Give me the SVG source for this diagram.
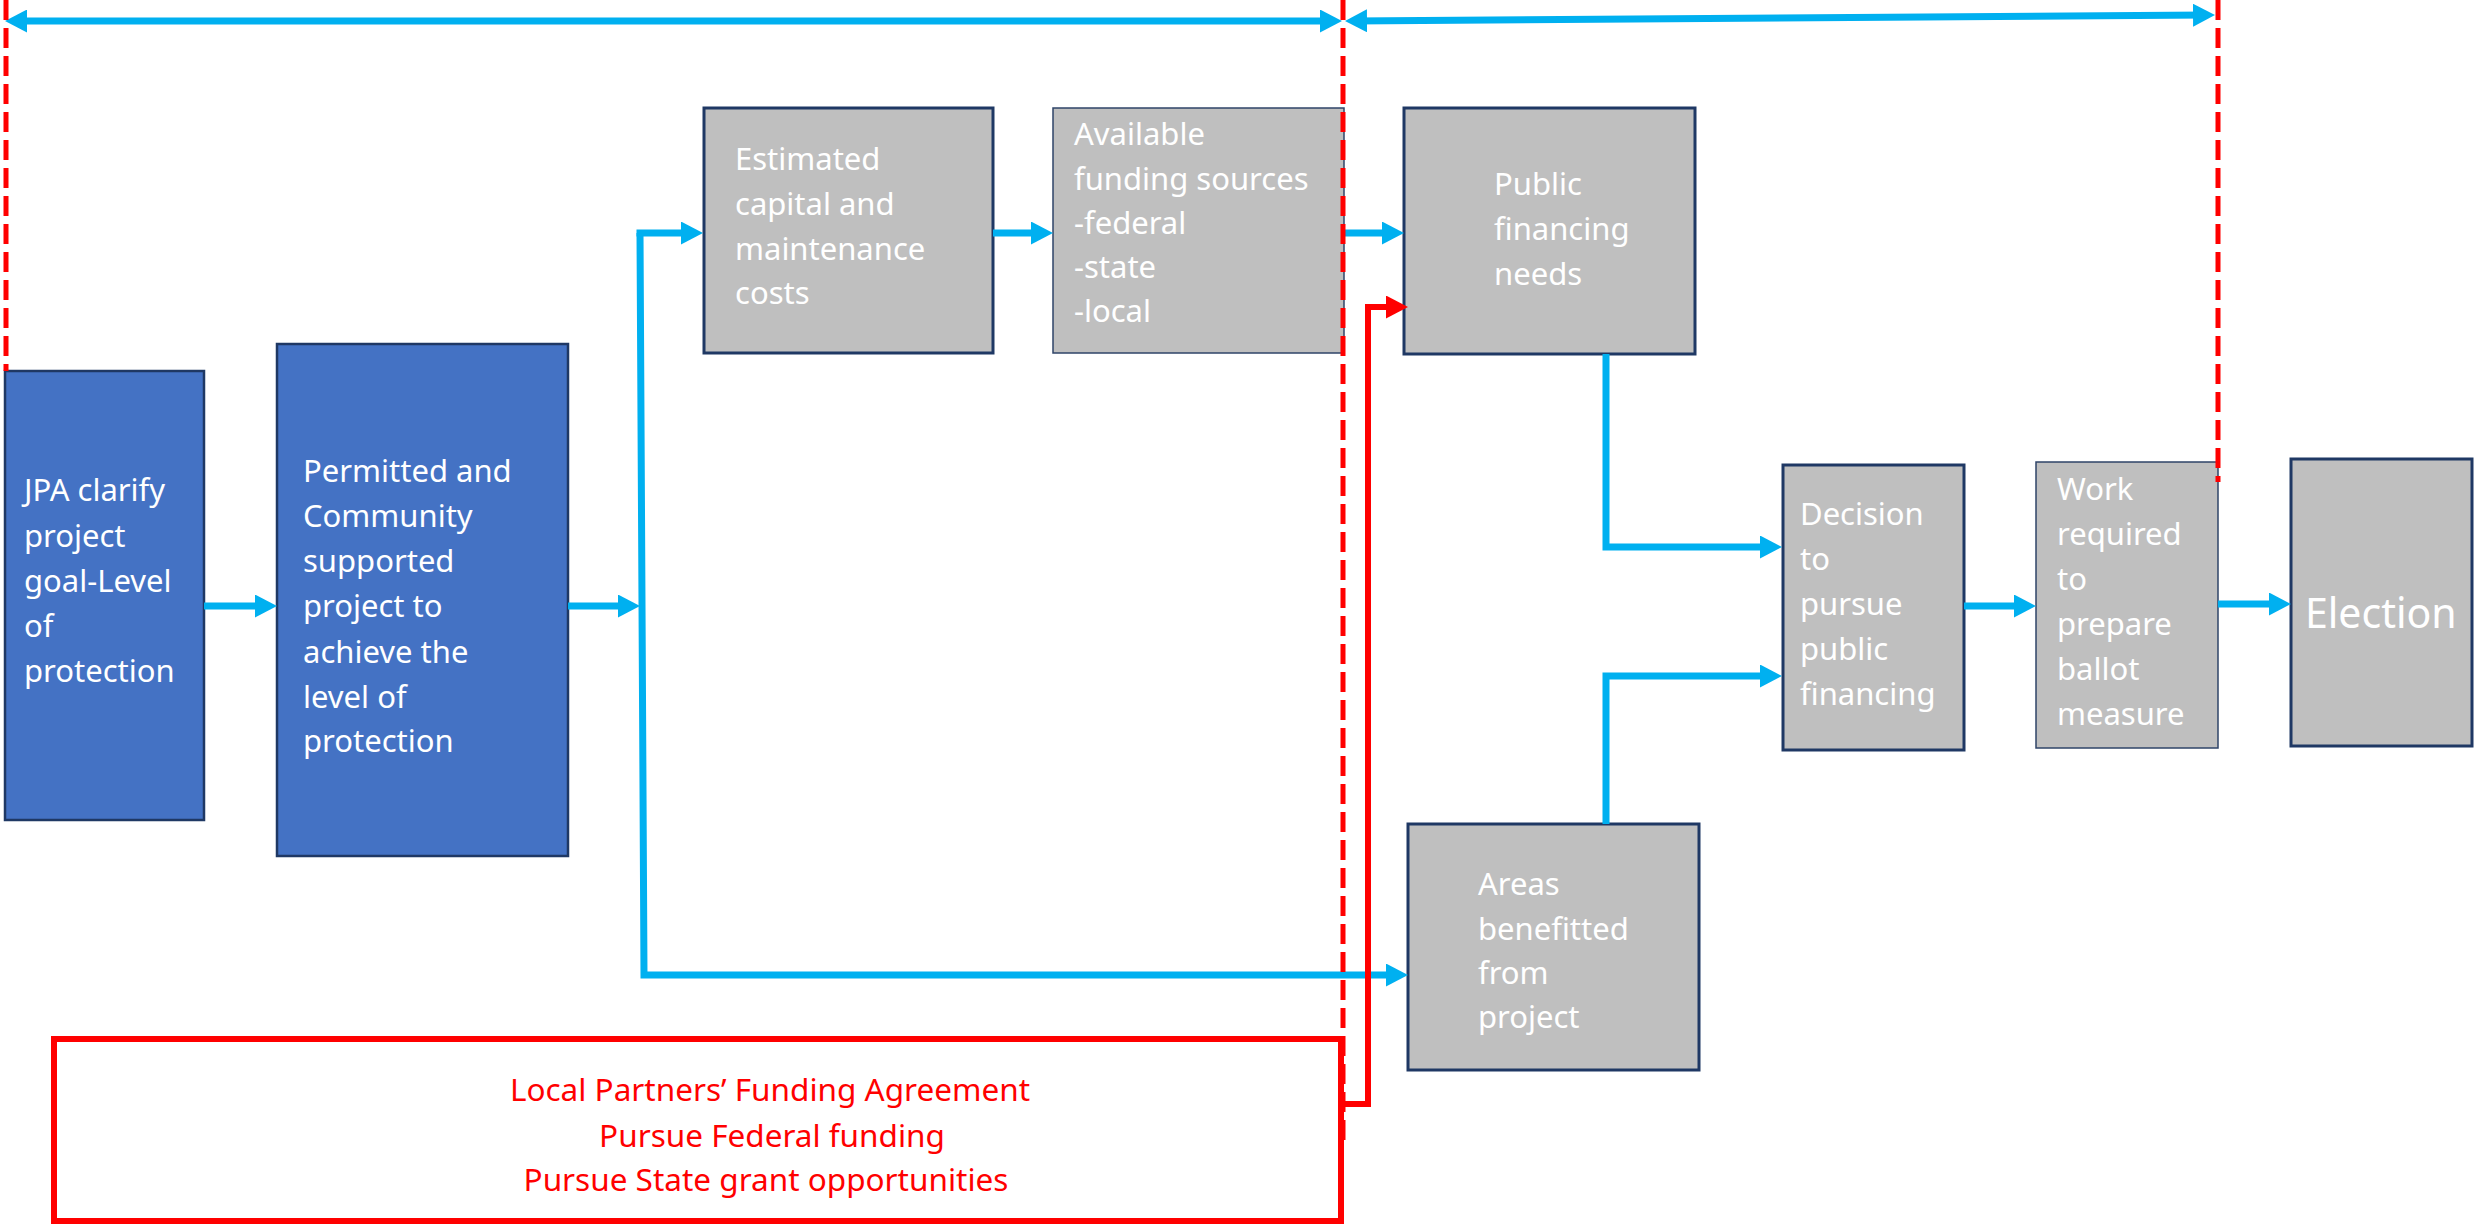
<svg xmlns="http://www.w3.org/2000/svg" width="2483" height="1225" viewBox="0 0 2483 1225">
<style>
.bluebox{fill:#4472C4;stroke:#1F3864;stroke-width:2.5}
.graybox{fill:#BFBFBF;stroke:#1F3864;stroke-width:3}
.thinbox{fill:#BFBFBF;stroke:#2F4468;stroke-width:1.5}
.t{font-family:"Noto Sans","Open Sans",sans-serif;font-size:31px;fill:#FFFFFF}
.big{font-size:41px}
.rt{font-family:"Noto Sans","Open Sans",sans-serif;font-size:31.5px;fill:#FF0000;text-anchor:middle}
.blue{fill:none;stroke:#00B0F0;stroke-width:7;stroke-linejoin:miter}
.red{fill:none;stroke:#FF0000;stroke-width:6;stroke-linejoin:miter}
.dash{fill:none;stroke:#FF0000;stroke-width:5;stroke-dasharray:20 8}
</style>
<defs>
<marker id="ab" markerUnits="userSpaceOnUse" markerWidth="22" markerHeight="23" refX="14" refY="11.5" orient="auto-start-reverse">
<path d="M0,0 L22,11.5 L0,23 Z" fill="#00B0F0"/>
</marker>
<marker id="ar" markerUnits="userSpaceOnUse" markerWidth="22" markerHeight="23" refX="14" refY="11.5" orient="auto">
<path d="M0,0 L22,11.5 L0,23 Z" fill="#FF0000"/>
</marker>
</defs>
<rect width="2483" height="1225" fill="#FFFFFF"/>

<g id="n-jpa">
<rect class="bluebox" x="5" y="371" width="199" height="449"/>
<text class="t"><tspan x="24" y="501">JPA clarify</tspan><tspan x="24" y="547">project</tspan><tspan x="24" y="592">goal-Level</tspan><tspan x="24" y="637">of</tspan><tspan x="24" y="682">protection</tspan></text>
</g>
<g id="n-permitted">
<rect class="bluebox" x="277" y="344" width="291" height="512"/>
<text class="t"><tspan x="303" y="482">Permitted and</tspan><tspan x="303" y="527">Community</tspan><tspan x="303" y="572">supported</tspan><tspan x="303" y="617">project to</tspan><tspan x="303" y="663">achieve  the</tspan><tspan x="303" y="708">level of</tspan><tspan x="303" y="752">protection</tspan></text>
</g>
<g id="n-estimated">
<rect class="graybox" x="704" y="108" width="289" height="245"/>
<text class="t"><tspan x="735" y="170">Estimated</tspan><tspan x="735" y="215">capital and</tspan><tspan x="735" y="260">maintenance</tspan><tspan x="735" y="304">costs</tspan></text>
</g>
<g id="n-available">
<rect class="thinbox" x="1053" y="108" width="291" height="245"/>
<text class="t"><tspan x="1074" y="145">Available</tspan><tspan x="1074" y="190">funding sources</tspan><tspan x="1074" y="234">-federal</tspan><tspan x="1074" y="278">-state</tspan><tspan x="1074" y="322">-local</tspan></text>
</g>
<g id="n-public">
<rect class="graybox" x="1404" y="108" width="291" height="246"/>
<text class="t"><tspan x="1494" y="195">Public</tspan><tspan x="1494" y="240">financing</tspan><tspan x="1494" y="285">needs</tspan></text>
</g>
<g id="n-areas">
<rect class="graybox" x="1408" y="824" width="291" height="246"/>
<text class="t"><tspan x="1478" y="895">Areas</tspan><tspan x="1478" y="940">benefitted</tspan><tspan x="1478" y="984">from</tspan><tspan x="1478" y="1028">project</tspan></text>
</g>
<g id="n-decision">
<rect class="graybox" x="1783" y="465" width="181" height="285"/>
<text class="t"><tspan x="1800" y="525">Decision</tspan><tspan x="1800" y="570">to</tspan><tspan x="1800" y="615">pursue</tspan><tspan x="1800" y="660">public</tspan><tspan x="1800" y="705">financing</tspan></text>
</g>
<g id="n-work">
<rect class="thinbox" x="2036" y="462" width="182" height="286"/>
<text class="t"><tspan x="2057" y="500">Work</tspan><tspan x="2057" y="545">required</tspan><tspan x="2057" y="590">to</tspan><tspan x="2057" y="635">prepare</tspan><tspan x="2057" y="680">ballot</tspan><tspan x="2057" y="725">measure</tspan></text>
</g>
<g id="n-election">
<rect class="graybox" x="2291" y="459" width="181" height="287"/>
<text class="t big" x="2305" y="628">Election</text>
</g>
<g id="n-funding">
<rect x="54" y="1039" width="1287" height="182" fill="none" stroke="#FF0000" stroke-width="6"/>
<text class="rt"><tspan x="770" y="1101">Local Partners’ Funding Agreement</tspan><tspan x="772" y="1147">Pursue Federal funding</tspan><tspan x="766" y="1191">Pursue State grant opportunities</tspan></text>
</g>

<g id="connectors">
<path class="blue" d="M204,606 L269,606" marker-end="url(#ab)"/>
<path class="blue" d="M568,606 L632,606" marker-end="url(#ab)"/>
<path class="blue" d="M636.5,233 L695,233" marker-end="url(#ab)"/>
<path class="blue" d="M640,233 L644,975 L1400,975" marker-end="url(#ab)"/>
<path class="blue" d="M993,233 L1045,233" marker-end="url(#ab)"/>
<path class="blue" d="M1344,233 L1396,233" marker-end="url(#ab)"/>
<path class="blue" d="M1606,354 L1606,547 L1774,547" marker-end="url(#ab)"/>
<path class="blue" d="M1606,824 L1606,676 L1774,676" marker-end="url(#ab)"/>
<path class="blue" d="M1964,606 L2028,606" marker-end="url(#ab)"/>
<path class="blue" d="M2218,604 L2283,604" marker-end="url(#ab)"/>
<path class="blue" d="M13,21 L1334,21" marker-start="url(#ab)" marker-end="url(#ab)"/>
<path class="blue" d="M1353,20.9 L2207,15.1" marker-start="url(#ab)" marker-end="url(#ab)"/>
<path class="dash" d="M6,0 L6,371"/>
<path class="dash" d="M1343,0 L1343,1140"/>
<path class="dash" d="M2218,0 L2218,482"/>
<path class="red" d="M1341,1104 L1368,1104 L1368,307 L1400,307" marker-end="url(#ar)"/>
</g>
</svg>
